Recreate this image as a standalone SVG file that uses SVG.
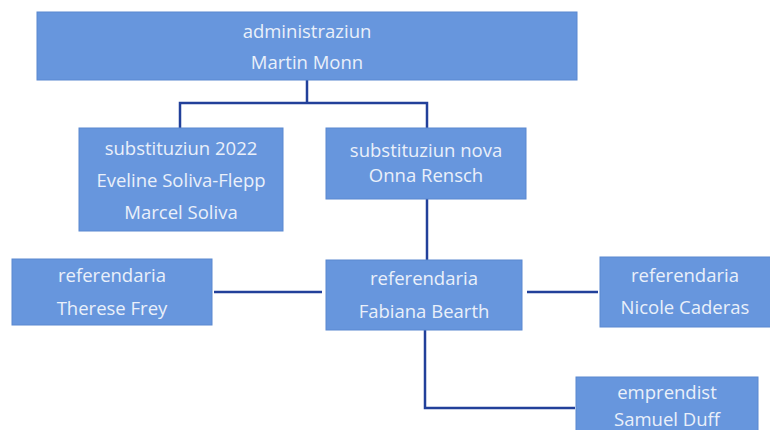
<svg xmlns="http://www.w3.org/2000/svg" width="770" height="430" viewBox="0 0 770 430">
<style>
.box{fill:#6796dd;stroke:#5a88d0;stroke-width:1}
.t{font-family:"Open Sans","Liberation Sans",sans-serif;font-size:18.5px;fill:#eaf0fa;text-anchor:middle}
.c{fill:none;stroke:#22409a;stroke-width:2.5}
</style>
<rect width="770" height="430" fill="#ffffff"/>
<g id="connectors">
<path class="c" d="M307,80 V103 M180,128 V103 H427 V128"/>
<path class="c" d="M427,199 V260"/>
<path class="c" d="M214,292 H322"/>
<path class="c" d="M527,292 H598"/>
<path class="c" d="M425,330 V408 H575"/>
</g>
<g id="administraziun">
<rect class="box" x="37" y="12" width="540" height="68"/>
<text class="t" x="307" y="38">administraziun</text>
<text class="t" x="307" y="69">Martin Monn</text>
</g>
<g id="substituziun2022">
<rect class="box" x="79" y="128" width="204" height="103"/>
<text class="t" x="181" y="155">substituziun 2022</text>
<text class="t" x="181" y="187">Eveline Soliva-Flepp</text>
<text class="t" x="181" y="219">Marcel Soliva</text>
</g>
<g id="substituziunnova">
<rect class="box" x="326" y="128" width="200" height="71"/>
<text class="t" x="426" y="157">substituziun nova</text>
<text class="t" x="426" y="182">Onna Rensch</text>
</g>
<g id="therese">
<rect class="box" x="12" y="259" width="200" height="66"/>
<text class="t" x="112" y="282">referendaria</text>
<text class="t" x="112" y="315">Therese Frey</text>
</g>
<g id="fabiana">
<rect class="box" x="326" y="260" width="196" height="70"/>
<text class="t" x="424" y="285">referendaria</text>
<text class="t" x="424" y="318">Fabiana Bearth</text>
</g>
<g id="nicole">
<rect class="box" x="600" y="257" width="175" height="70"/>
<text class="t" x="685" y="282">referendaria</text>
<text class="t" x="685" y="314">Nicole Caderas</text>
</g>
<g id="emprendist">
<rect class="box" x="576" y="377" width="182" height="60"/>
<text class="t" x="667" y="399">emprendist</text>
<text class="t" x="667" y="426">Samuel Duff</text>
</g>
</svg>
